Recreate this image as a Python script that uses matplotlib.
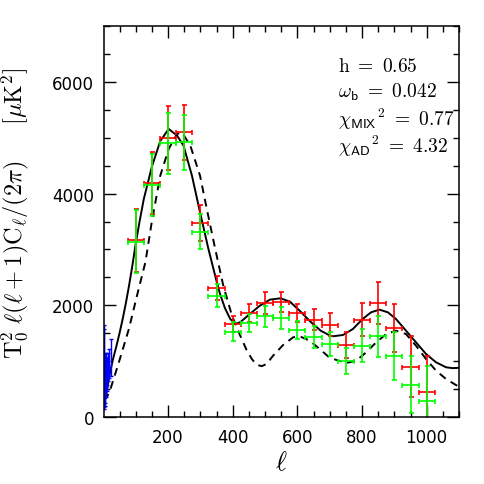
import matplotlib
matplotlib.use("Agg")
import matplotlib.pyplot as plt
from matplotlib.ticker import MultipleLocator

# ---- data ----
bin_l = [100, 150, 200, 250, 300, 350, 400, 450, 500, 550, 600, 650, 700,
         750, 800, 850, 900, 950, 1000]
bin_halfwidth = [25] * 19

red_v = [3160, 4190, 4995, 5097, 3473, 2316, 1665, 1862, 2041, 2065, 1862,
         1742, 1653, 1295, 1742, 2041, 1594, 901, 454]
red_e = [567, 561, 567, 496, 322, 215, 149, 161, 191, 179, 161,
         191, 209, 233, 293, 370, 430, 543, 633]

green_v = [3139, 4154, 4900, 4918, 3318, 2172, 1527, 1683, 1803, 1767, 1563,
           1427, 1307, 997, 1277, 1445, 1087, 579, 281]
green_e = [567, 555, 543, 496, 316, 209, 167, 161, 191, 197, 161,
           197, 209, 233, 298, 370, 430, 510, 627]

blue_l = [2, 3, 4, 5, 6, 7, 8, 10, 12, 15, 19, 23]
blue_v = [900, 880, 700, 600, 780, 650, 850, 820, 720, 900, 950, 1070]
blue_e = [750, 700, 450, 400, 350, 300, 300, 250, 250, 250, 260, 330]

solid_l = [2, 10, 20, 30, 40, 50, 60, 70, 80, 90, 100, 112, 125, 150, 176,
           202, 228, 248, 274, 299, 325, 351, 361, 376, 392, 407, 423, 453,
           484, 515, 548, 577, 607, 640, 672, 700, 710, 741, 772, 802, 828,
           854, 880, 905, 936, 967, 998, 1029, 1060, 1080, 1100]
solid_v = [380, 440, 780, 1040, 1260, 1500, 1760, 2050, 2370, 2720, 3100,
           3500, 3900, 4480, 4940, 5157, 5037, 4858, 4321, 3665, 3008, 2411,
           2200, 1950, 1760, 1665, 1695, 1844, 1993, 2101, 2125, 2065, 1904,
           1710, 1546, 1460, 1445, 1468, 1576, 1755, 1874, 1922, 1874, 1755,
           1546, 1337, 1128, 979, 890, 875, 880]

dash_l = [2, 11, 22, 48, 79, 104, 130, 150, 176, 202, 228, 243, 269, 299,
          320, 346, 371, 397, 410, 423, 443, 459, 474, 490, 505, 525, 556,
          587, 607, 638, 669, 700, 751, 782, 813, 844, 875, 905, 936, 967,
          998, 1029, 1060, 1100]
dash_v = [300, 352, 501, 979, 1576, 2172, 2770, 3500, 4321, 4799, 5067,
          5097, 4858, 4321, 3724, 3008, 2351, 1830, 1640, 1460, 1200, 1040,
          935, 910, 950, 1098, 1289, 1427, 1445, 1367, 1218, 1060, 967, 1009,
          1158, 1337, 1486, 1546, 1486, 1277, 1038, 830, 680, 540]

x_ticks = [200, 400, 600, 800, 1000]
y_ticks = [0, 2000, 4000, 6000]

annotations = [r'$\mathrm{h}\ =\ \mathsf{0.65}$',
               r'$\omega_\mathsf{b}\ =\ \mathsf{0.042}$',
               r'$\chi_\mathsf{MIX}{}^\mathsf{2}\ =\ \mathsf{0.77}$',
               r'$\chi_\mathsf{AD}{}^\mathsf{2}\ =\ \mathsf{4.32}$']

# ---- plotting ----
plt.rcParams['mathtext.fontset'] = 'cm'
plt.rcParams['font.family'] = ['DejaVu Sans']

fig = plt.figure(figsize=(4.85, 4.85), dpi=100)
ax = fig.add_axes([104 / 485, 67 / 485, 355 / 485, 391 / 485])

ax.plot(solid_l, solid_v, color='black', lw=1.4, solid_capstyle='round')
ax.plot(dash_l, dash_v, color='black', lw=1.4, dashes=(4, 3))

ax.errorbar(bin_l, red_v, yerr=red_e, xerr=bin_halfwidth, fmt='none',
            ecolor='#ff0000', elinewidth=1.2, capsize=1.8, capthick=1.2)
ax.errorbar(bin_l, green_v, yerr=green_e, xerr=bin_halfwidth, fmt='none',
            ecolor='#00ff00', elinewidth=1.2, capsize=1.8, capthick=1.2)
ax.errorbar(blue_l, blue_v, yerr=blue_e, fmt='none',
            ecolor='#0000ff', elinewidth=1.0, capsize=1.5, capthick=1.0)

ax.set_xlim(2, 1100)
ax.set_ylim(0, 7000)
ax.set_xticks(x_ticks)
ax.set_yticks(y_ticks)
ax.xaxis.set_minor_locator(MultipleLocator(50))
ax.yaxis.set_minor_locator(MultipleLocator(500))
ax.tick_params(which='both', direction='in', top=True, right=True,
               width=1.0, labelsize=12)
ax.tick_params(which='major', length=8.5)
ax.tick_params(which='minor', length=4.3)
ax.tick_params(axis='x', pad=8)
ax.tick_params(axis='y', pad=7)
for s in ax.spines.values():
    s.set_linewidth(1.1)

ax.set_xlabel(r'$\ell$', fontsize=19, labelpad=2)
ax.set_ylabel(r'$\mathrm{T}_\mathsf{0}^\mathsf{2}\ \ell(\ell+1)\mathrm{C}_\ell/(2\pi)\quad\ \ [\mu\mathrm{K}^\mathsf{2}]$',
              fontsize=17.5)
ax.yaxis.set_label_coords(-0.205, 0.525)

ys = [0.886, 0.818, 0.748, 0.679]
for txt, yy in zip(annotations, ys):
    ax.text(0.659, yy, txt, transform=ax.transAxes, fontsize=14,
            ha='left', va='baseline')

fig.savefig('out.png', dpi=100)
